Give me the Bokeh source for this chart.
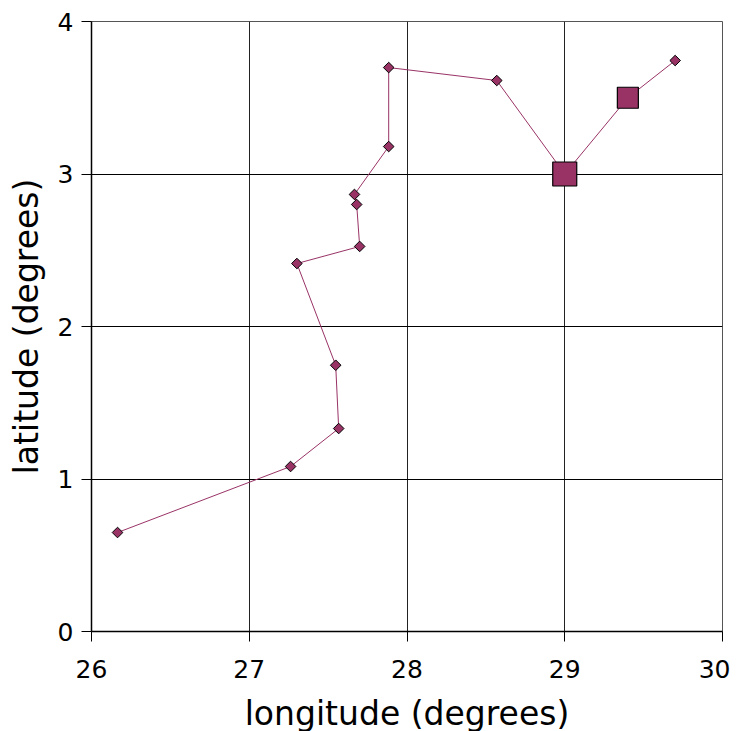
from bokeh.plotting import figure
from bokeh.models import Range1d, FixedTicker
from bokeh.embed import file_html
from bokeh.resources import INLINE
import math

# data
lon = [26.165, 27.262, 27.567, 27.548, 27.302, 27.700, 27.681, 27.667, 27.884, 27.884, 28.569, 29.0, 29.40, 29.70]
lat = [0.649, 1.082, 1.331, 1.746, 2.413, 2.525, 2.800, 2.866, 3.180, 3.698, 3.613, 3.0, 3.50, 3.744]
small_lon = [26.165, 27.262, 27.567, 27.548, 27.302, 27.700, 27.681, 27.667, 27.884, 27.884, 28.569, 29.70]
small_lat = [0.649, 1.082, 1.331, 1.746, 2.413, 2.525, 2.800, 2.866, 3.180, 3.698, 3.613, 3.744]
big_lon = [29.0, 29.40]
big_lat = [3.0, 3.50]
big_size = [24, 21]
x_ticks = [26, 27, 28, 29, 30]
y_ticks = [0, 1, 2, 3, 4]

COLOR = "#993366"
FONT = "DejaVu Sans"

p = figure(frame_width=631, frame_height=610, output_backend="svg", toolbar_location=None,
           x_range=Range1d(26, 30), y_range=Range1d(0, 4),
           min_border_left=91, min_border_right=8, min_border_top=21, min_border_bottom=92)
p.background_fill_color = "white"
p.border_fill_color = "white"
p.outline_line_color = "#555555"
p.outline_line_width = 1

for ax in (p.xaxis[0], p.yaxis[0]):
    ax.axis_line_color = "black"
    ax.axis_line_width = 1.5
    ax.major_tick_line_color = "black"
    ax.major_tick_in = 0
    ax.major_tick_out = 10
    ax.minor_tick_line_color = None
    ax.major_label_text_font = FONT
    ax.major_label_text_font_size = "25px"
    ax.major_label_text_color = "black"
    ax.axis_label_text_font = FONT
    ax.axis_label_text_font_size = "33px"
    ax.axis_label_text_font_style = "normal"
    ax.axis_label_text_color = "black"

p.xaxis[0].ticker = FixedTicker(ticks=x_ticks)
p.yaxis[0].ticker = FixedTicker(ticks=y_ticks)
p.xaxis[0].axis_label = "longitude (degrees)"
p.yaxis[0].axis_label = "latitude (degrees)"
p.xaxis[0].major_label_standoff = 18
p.yaxis[0].major_label_standoff = 8
p.xaxis[0].axis_label_standoff = 13
p.yaxis[0].axis_label_standoff = 9

p.xgrid.grid_line_color = "#222222"
p.ygrid.grid_line_color = "black"
p.xgrid.grid_line_width = 1
p.ygrid.grid_line_width = 1
p.xgrid.ticker = FixedTicker(ticks=x_ticks)
p.ygrid.ticker = FixedTicker(ticks=y_ticks)

p.line(lon, lat, line_color=COLOR, line_width=1)
p.scatter(small_lon, small_lat, marker="square", size=7.5, angle=math.pi / 4,
          fill_color=COLOR, line_color="black", line_width=1)
p.scatter(big_lon, big_lat, marker="square", size=big_size,
          fill_color=COLOR, line_color="black", line_width=1.2)

open("out.html", "w").write(file_html(p, INLINE))
